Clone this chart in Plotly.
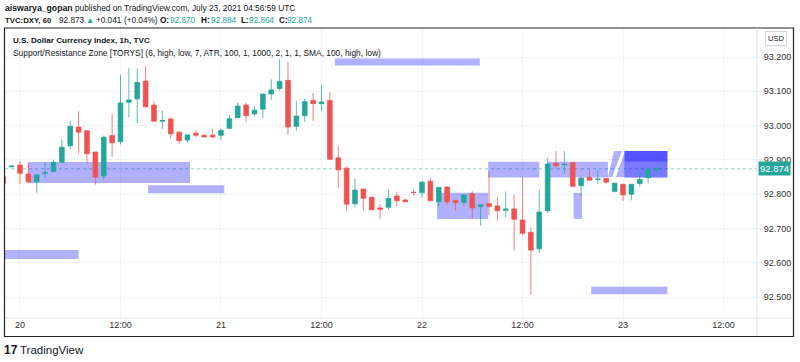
import plotly.graph_objects as go
import pandas as pd

# ---------------- data ----------------
times = pd.date_range("2021-07-19 22:00", periods=79, freq="h")
opens = [92.851, 92.880, 92.885, 92.859, 92.836, 92.861, 92.866, 92.893, 92.941, 92.996,
         92.985, 92.923, 92.853, 92.971, 92.953, 93.068, 93.078, 93.130, 93.060, 93.013,
         93.019, 92.981, 92.958, 92.978, 92.972, 92.972, 92.972, 92.992, 93.023, 93.060,
         93.034, 93.048, 93.092, 93.108, 93.132, 92.998, 93.029, 93.073, 93.064, 93.073,
         92.906, 92.876, 92.772, 92.815, 92.791, 92.760, 92.762, 92.795, 92.783, 92.806,
         92.804, 92.838, 92.778, 92.821, 92.782, 92.776, 92.801, 92.764, 92.773, 92.766,
         92.753, 92.757, 92.725, 92.689, 92.641, 92.752, 92.890, 92.886, 92.892, 92.825,
         92.849, 92.843, 92.846, 92.808, 92.829, 92.800, 92.831, 92.848, 92.870]
highs = [92.855, 92.883, 92.897, 92.890, 92.857, 92.894, 92.901, 92.960, 93.013, 93.042,
         92.986, 92.924, 92.971, 93.033, 93.148, 93.167, 93.167, 93.174, 93.070, 93.043,
         93.024, 92.984, 92.974, 92.987, 92.973, 92.990, 92.992, 93.031, 93.067, 93.067,
         93.057, 93.093, 93.135, 93.194, 93.185, 93.072, 93.078, 93.096, 93.118, 93.098,
         92.941, 92.880, 92.845, 92.816, 92.796, 92.771, 92.814, 92.808, 92.788, 92.814,
         92.839, 92.848, 92.821, 92.822, 92.783, 92.799, 92.809, 92.770, 92.867, 92.791,
         92.808, 92.798, 92.851, 92.703, 92.812, 92.905, 92.926, 92.926, 92.893, 92.848,
         92.871, 92.871, 92.847, 92.833, 92.830, 92.830, 92.869, 92.876, 92.884]
lows = [92.830, 92.879, 92.829, 92.833, 92.804, 92.848, 92.865, 92.892, 92.931, 92.919,
        92.890, 92.828, 92.843, 92.909, 92.945, 93.024, 93.007, 93.053, 93.012, 92.990,
        92.961, 92.947, 92.950, 92.966, 92.966, 92.965, 92.958, 92.990, 93.022, 93.011,
        93.027, 93.021, 93.075, 93.102, 92.973, 92.985, 93.011, 93.014, 93.043, 92.901,
        92.819, 92.752, 92.761, 92.752, 92.754, 92.728, 92.756, 92.764, 92.777, 92.797,
        92.790, 92.780, 92.764, 92.768, 92.751, 92.764, 92.729, 92.708, 92.738, 92.723,
        92.733, 92.635, 92.681, 92.508, 92.629, 92.746, 92.874, 92.859, 92.822, 92.795,
        92.840, 92.829, 92.831, 92.805, 92.781, 92.782, 92.822, 92.832, 92.864]
closes = [92.832, 92.882, 92.861, 92.836, 92.857, 92.863, 92.893, 92.937, 92.998, 92.981,
          92.918, 92.850, 92.966, 92.950, 93.066, 93.075, 93.126, 93.055, 93.013, 93.015,
          92.976, 92.956, 92.973, 92.972, 92.967, 92.967, 92.986, 93.020, 93.057, 93.029,
          93.045, 93.092, 93.104, 93.129, 92.996, 93.028, 93.070, 93.064, 93.069, 92.902,
          92.871, 92.771, 92.812, 92.788, 92.755, 92.756, 92.788, 92.781, 92.778, 92.805,
          92.835, 92.781, 92.820, 92.778, 92.775, 92.798, 92.760, 92.769, 92.764, 92.752,
          92.757, 92.727, 92.686, 92.637, 92.748, 92.888, 92.883, 92.887, 92.823, 92.847,
          92.841, 92.844, 92.835, 92.832, 92.798, 92.829, 92.843, 92.873, 92.874]

# support / resistance zones: hours since 2021-07-20 00:00 (start, end), price (top, bottom)
zone_start = [0.96, 15.3, 37.6, -2.0, 55.9, 49.8, 63.0, 66.1, 68.2, 72.2, 72.2, 72.2, 72.2]
zone_end = [20.3, 24.4, 54.9, 7.0, 62.0, 55.9, 70.2, 67.1, 77.3, 77.3, 77.3, 77.3, 77.3]
zone_top = [92.894, 92.826, 93.196, 92.637, 92.895, 92.804, 92.895, 92.804, 92.530, 92.926, 92.895, 92.926, 92.926]
zone_bot = [92.833, 92.803, 93.175, 92.611, 92.849, 92.728, 92.849, 92.728, 92.508, 92.849, 92.849, 92.895, 92.895]

# slanted zone fragments
polyA_h = [70.21, 70.93, 71.88, 70.69]
polyA_p = [92.850, 92.926, 92.926, 92.850]
polyB_h = [71.16, 72.24, 72.24]
polyB_p = [92.850, 92.926, 92.850]

last_price = 92.874
price_ticks = [92.5, 92.6, 92.7, 92.8, 92.9, 93.0, 93.1, 93.2]
time_ticks = ["2021-07-20 00:00", "2021-07-20 12:00", "2021-07-21 00:00", "2021-07-21 12:00",
              "2021-07-22 00:00", "2021-07-22 12:00", "2021-07-23 00:00", "2021-07-23 12:00"]
time_labels = ["20", "12:00", "21", "12:00", "22", "12:00", "23", "12:00"]

# header legend pieces: text, colour, bold
legend_items = [("TVC:DXY, 60", "#131722", True), ("92.873", "#131722", False), ("▲", "#26a69a", False),
                ("+0.041", "#131722", False), ("(+0.04%)", "#131722", False),
                ("O:", "#131722", True), ("92.870", "#26a69a", False),
                ("H:", "#131722", True), ("92.884", "#26a69a", False),
                ("L:", "#131722", True), ("92.864", "#26a69a", False),
                ("C:", "#131722", True), ("92.874", "#26a69a", False)]
legend_px = [3, 57, 84, 94, 122, 158, 168, 199, 209, 239, 247, 277, 285]

# ---------------- figure ----------------
W, H = 800, 362
L, R, T, B = 5, 43, 28, 44
base = pd.Timestamp("2021-07-20 00:00")


def hrs(h):
    return base + pd.to_timedelta(h, unit="h")


def px(x):
    return (x - L) / (W - L - R)


def py(y):
    return 1 - (y - T) / (H - T - B)


UP = "#26a69a"
DN = "#ef5350"
ZONE = "rgba(0,0,255,0.31)"
FONT = "Liberation Sans"

fig = go.Figure()

for ph, pp in [(polyA_h, polyA_p), (polyB_h, polyB_p)]:
    fig.add_trace(go.Scatter(x=[hrs(h) for h in ph], y=pp, fill="toself", mode="lines",
                             line=dict(width=0), fillcolor=ZONE, hoverinfo="skip",
                             showlegend=False))

fig.add_trace(go.Candlestick(
    x=times, open=opens, high=highs, low=lows, close=closes,
    increasing=dict(line=dict(color="rgba(38,166,154,0.75)", width=1), fillcolor=UP),
    decreasing=dict(line=dict(color="rgba(239,83,80,0.75)", width=1), fillcolor=DN),
    whiskerwidth=0, showlegend=False))

shapes = []
for s, e, tp, bt in zip(zone_start, zone_end, zone_top, zone_bot):
    shapes.append(dict(type="rect", xref="x", yref="y", x0=hrs(s), x1=hrs(e), y0=bt, y1=tp,
                       fillcolor=ZONE, line=dict(width=0), layer="between"))
shapes.append(dict(type="line", xref="paper", yref="y", x0=0, x1=1, y0=last_price, y1=last_price,
                   line=dict(color="rgba(38,166,154,0.55)", width=1, dash="dot"), layer="between"))
shapes.append(dict(type="rect", xref="paper", yref="paper", x0=px(4.5), x1=px(793.5), y0=py(336.5), y1=py(28),
                   line=dict(color="#222", width=1.2), fillcolor="rgba(0,0,0,0)", layer="above"))
shapes.append(dict(type="line", xref="paper", yref="paper", x0=1, x1=1, y0=py(336), y1=py(28),
                   line=dict(color="#e0e3eb", width=1)))
shapes.append(dict(type="line", xref="paper", yref="paper", x0=px(5), x1=px(793), y0=0, y1=0,
                   line=dict(color="#e0e3eb", width=1)))

ann = []
ann.append(dict(xref="paper", yref="paper", x=px(3), y=py(8), xanchor="left", yanchor="middle",
                showarrow=False, font=dict(family=FONT, size=8.3, color="#131722"),
                text="<span style='font-size:8.7px'><b>aiswarya_gopan</b></span> published on TradingView.com, July 23, 2021 04:56:59 UTC"))
for (txt, col, bold), xp in zip(legend_items, legend_px):
    ann.append(dict(xref="paper", yref="paper", x=px(xp), y=py(20.5), xanchor="left", yanchor="middle",
                    showarrow=False,
                    font=dict(family=FONT, size=7.8 if txt.startswith("TVC") else 8.2, color=col,
                              weight="bold" if bold else "normal"),
                    text=txt))
ann.append(dict(xref="paper", yref="paper", x=px(11), y=py(41), xanchor="left", yanchor="middle",
                showarrow=False, font=dict(family=FONT, size=8.1, color="#131722"),
                text="<b>U.S. Dollar Currency Index, 1h, TVC</b>"))
ann.append(dict(xref="paper", yref="paper", x=px(11), y=py(52.5), xanchor="left", yanchor="middle",
                showarrow=False, font=dict(family=FONT, size=8.4, color="#131722"),
                text="Support/Resistance Zone [TORYS] (6, high, low, 7, ATR, 100, 1, 1000, 2, 1, 1, SMA, 100, high, low)"))
ann.append(dict(xref="paper", yref="y", x=px(758), y=last_price, xanchor="left", yanchor="middle",
                showarrow=False, font=dict(family=FONT, size=9.5, color="white"),
                text="92.874", bgcolor=UP, borderpad=1))
ann.append(dict(xref="paper", yref="paper", x=px(776), y=py(39), xanchor="center", yanchor="middle",
                showarrow=False, font=dict(family=FONT, size=7.5, color="#131722"),
                text="USD", bordercolor="#d1d4dc", borderwidth=1, borderpad=2))
ann.append(dict(xref="paper", yref="paper", x=px(2), y=py(350), xanchor="left", yanchor="middle",
                showarrow=False, font=dict(family=FONT, size=12, color="#131722", weight="bold"),
                text="17"))
ann.append(dict(xref="paper", yref="paper", x=px(18), y=py(350), xanchor="left", yanchor="middle",
                showarrow=False, font=dict(family=FONT, size=11.5, color="#131722"),
                text="TradingView"))

fig.update_layout(
    width=W, height=H, margin=dict(l=L, r=R, t=T, b=B),
    paper_bgcolor="white", plot_bgcolor="white", boxgap=0.2,
    shapes=shapes, annotations=ann, showlegend=False,
    xaxis=dict(type="date", range=[hrs(-1.79), hrs(88.0)], rangeslider=dict(visible=False),
               tickvals=time_ticks, ticktext=time_labels, showgrid=True, gridcolor="#f0f3fa",
               zeroline=False, showline=False, ticks="", tickfont=dict(family=FONT, size=9, color="#333")),
    yaxis=dict(side="right", range=[92.4391, 93.2846], tickvals=price_ticks, tickformat=".3f",
               showgrid=True, gridcolor="#f0f3fa", zeroline=False, showline=False,
               ticks="outside", ticklen=4, tickcolor="#e0e3eb",
               tickfont=dict(family=FONT, size=9, color="#333")),
)

fig.write_html("out.html", config={"displayModeBar": False},
               post_script="document.body.style.margin='0';document.body.style.overflow='hidden';")
